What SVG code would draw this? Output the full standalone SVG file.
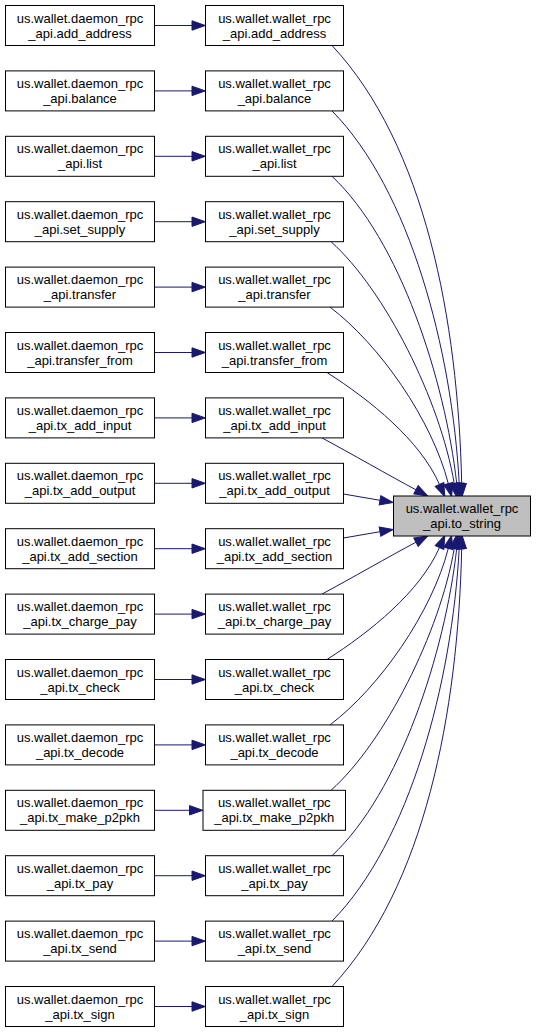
<svg xmlns="http://www.w3.org/2000/svg" width="536" height="1032" viewBox="0 0 536 1032">
<style>
.n rect{fill:#ffffff;stroke:#000000;stroke-width:1}
.n.hl rect{fill:#bfbfbf}
.n text{font-family:"Liberation Sans",Arial,sans-serif;font-size:13px;text-anchor:middle;fill:#000000}
.e path{fill:none;stroke:#191970;stroke-width:1;marker-end:url(#ah)}
</style>
<defs>
<marker id="ah" markerUnits="userSpaceOnUse" markerWidth="14" markerHeight="10" refX="0" refY="5" orient="auto" overflow="visible">
<polygon points="0,0.3 13.3,5 0,9.7" fill="#191970" stroke="#191970" stroke-width="1"/>
</marker>
</defs>
<rect width="536" height="1032" fill="#ffffff"/>
<g id="edges" class="e">
<path d="M154.5,25.5L192,25.5"/>
<path d="M154.5,90.9L192,90.9"/>
<path d="M154.5,156.3L192,156.3"/>
<path d="M154.5,221.7L192,221.7"/>
<path d="M154.5,287.1L192,287.1"/>
<path d="M154.5,352.5L192,352.5"/>
<path d="M154.5,417.9L192,417.9"/>
<path d="M154.5,483.3L192,483.3"/>
<path d="M154.5,548.7L192,548.7"/>
<path d="M154.5,614.1L192,614.1"/>
<path d="M154.5,679.5L192,679.5"/>
<path d="M154.5,744.9L192,744.9"/>
<path d="M154.5,810.3L189.5,810.3"/>
<path d="M154.5,875.7L192,875.7"/>
<path d="M154.5,941.1L192,941.1"/>
<path d="M154.5,1006.5L192,1006.5"/>
<path d="M332,45.5C425,145 458,320 461.7,483.5"/>
<path d="M332,110.9C410,190 452,350 459.2,483.3"/>
<path d="M332,176.3C400,240 445,380 456.7,483.3"/>
<path d="M331,241.7C385,290 440,400 454.2,483.3"/>
<path d="M330,307.1C380,345 432,420 448.3,483.6"/>
<path d="M327,372.5C370,400 420,440 439.5,484.5"/>
<path d="M322,437.9C350,453 390,476 416,489.8"/>
<path d="M343.5,494L380,500.3"/>
<path d="M343.5,538L380,531.7"/>
<path d="M322,594.1C350,579 390,556 416,542.2"/>
<path d="M327,659.5C370,632 420,592 439.5,547.5"/>
<path d="M330,724.9C380,687 432,612 448.3,548.4"/>
<path d="M331,790.3C385,742 440,632 454.2,548.7"/>
<path d="M332,855.7C400,792 445,652 456.7,548.7"/>
<path d="M332,921.1C410,842 452,682 459.2,548.7"/>
<path d="M332,986.5C425,887 458,712 461.7,548.5"/>
</g>
<g id="to_string" class="n hl"><rect x="393.5" y="496" width="137" height="40"/><text x="462" y="513">us.wallet.wallet_rpc</text><text x="462" y="528">_api.to_string</text></g>
<g id="w_add_address" class="n"><rect x="205.5" y="5.5" width="138" height="40"/><text x="274.5" y="22.5">us.wallet.wallet_rpc</text><text x="274.5" y="37.5">_api.add_address</text></g>
<g id="w_balance" class="n"><rect x="205.5" y="70.9" width="138" height="40"/><text x="274.5" y="87.9">us.wallet.wallet_rpc</text><text x="274.5" y="102.9">_api.balance</text></g>
<g id="w_list" class="n"><rect x="205.5" y="136.3" width="138" height="40"/><text x="274.5" y="153.3">us.wallet.wallet_rpc</text><text x="274.5" y="168.3">_api.list</text></g>
<g id="w_set_supply" class="n"><rect x="205.5" y="201.7" width="138" height="40"/><text x="274.5" y="218.7">us.wallet.wallet_rpc</text><text x="274.5" y="233.7">_api.set_supply</text></g>
<g id="w_transfer" class="n"><rect x="205.5" y="267.1" width="138" height="40"/><text x="274.5" y="284.1">us.wallet.wallet_rpc</text><text x="274.5" y="299.1">_api.transfer</text></g>
<g id="w_transfer_from" class="n"><rect x="205.5" y="332.5" width="138" height="40"/><text x="274.5" y="349.5">us.wallet.wallet_rpc</text><text x="274.5" y="364.5">_api.transfer_from</text></g>
<g id="w_tx_add_input" class="n"><rect x="205.5" y="397.9" width="138" height="40"/><text x="274.5" y="414.9">us.wallet.wallet_rpc</text><text x="274.5" y="429.9">_api.tx_add_input</text></g>
<g id="w_tx_add_output" class="n"><rect x="205.5" y="463.3" width="138" height="40"/><text x="274.5" y="480.3">us.wallet.wallet_rpc</text><text x="274.5" y="495.3">_api.tx_add_output</text></g>
<g id="w_tx_add_section" class="n"><rect x="205.5" y="528.7" width="138" height="40"/><text x="274.5" y="545.7">us.wallet.wallet_rpc</text><text x="274.5" y="560.7">_api.tx_add_section</text></g>
<g id="w_tx_charge_pay" class="n"><rect x="205.5" y="594.1" width="138" height="40"/><text x="274.5" y="611.1">us.wallet.wallet_rpc</text><text x="274.5" y="626.1">_api.tx_charge_pay</text></g>
<g id="w_tx_check" class="n"><rect x="205.5" y="659.5" width="138" height="40"/><text x="274.5" y="676.5">us.wallet.wallet_rpc</text><text x="274.5" y="691.5">_api.tx_check</text></g>
<g id="w_tx_decode" class="n"><rect x="205.5" y="724.9" width="138" height="40"/><text x="274.5" y="741.9">us.wallet.wallet_rpc</text><text x="274.5" y="756.9">_api.tx_decode</text></g>
<g id="w_tx_make_p2pkh" class="n"><rect x="203" y="790.3" width="142.5" height="40"/><text x="274.25" y="807.3">us.wallet.wallet_rpc</text><text x="274.25" y="822.3">_api.tx_make_p2pkh</text></g>
<g id="w_tx_pay" class="n"><rect x="205.5" y="855.7" width="138" height="40"/><text x="274.5" y="872.7">us.wallet.wallet_rpc</text><text x="274.5" y="887.7">_api.tx_pay</text></g>
<g id="w_tx_send" class="n"><rect x="205.5" y="921.1" width="138" height="40"/><text x="274.5" y="938.1">us.wallet.wallet_rpc</text><text x="274.5" y="953.1">_api.tx_send</text></g>
<g id="w_tx_sign" class="n"><rect x="205.5" y="986.5" width="138" height="40"/><text x="274.5" y="1003.5">us.wallet.wallet_rpc</text><text x="274.5" y="1018.5">_api.tx_sign</text></g>
<g id="d_add_address" class="n"><rect x="5.5" y="5.5" width="149" height="40"/><text x="80" y="22.5">us.wallet.daemon_rpc</text><text x="80" y="37.5">_api.add_address</text></g>
<g id="d_balance" class="n"><rect x="5.5" y="70.9" width="149" height="40"/><text x="80" y="87.9">us.wallet.daemon_rpc</text><text x="80" y="102.9">_api.balance</text></g>
<g id="d_list" class="n"><rect x="5.5" y="136.3" width="149" height="40"/><text x="80" y="153.3">us.wallet.daemon_rpc</text><text x="80" y="168.3">_api.list</text></g>
<g id="d_set_supply" class="n"><rect x="5.5" y="201.7" width="149" height="40"/><text x="80" y="218.7">us.wallet.daemon_rpc</text><text x="80" y="233.7">_api.set_supply</text></g>
<g id="d_transfer" class="n"><rect x="5.5" y="267.1" width="149" height="40"/><text x="80" y="284.1">us.wallet.daemon_rpc</text><text x="80" y="299.1">_api.transfer</text></g>
<g id="d_transfer_from" class="n"><rect x="5.5" y="332.5" width="149" height="40"/><text x="80" y="349.5">us.wallet.daemon_rpc</text><text x="80" y="364.5">_api.transfer_from</text></g>
<g id="d_tx_add_input" class="n"><rect x="5.5" y="397.9" width="149" height="40"/><text x="80" y="414.9">us.wallet.daemon_rpc</text><text x="80" y="429.9">_api.tx_add_input</text></g>
<g id="d_tx_add_output" class="n"><rect x="5.5" y="463.3" width="149" height="40"/><text x="80" y="480.3">us.wallet.daemon_rpc</text><text x="80" y="495.3">_api.tx_add_output</text></g>
<g id="d_tx_add_section" class="n"><rect x="5.5" y="528.7" width="149" height="40"/><text x="80" y="545.7">us.wallet.daemon_rpc</text><text x="80" y="560.7">_api.tx_add_section</text></g>
<g id="d_tx_charge_pay" class="n"><rect x="5.5" y="594.1" width="149" height="40"/><text x="80" y="611.1">us.wallet.daemon_rpc</text><text x="80" y="626.1">_api.tx_charge_pay</text></g>
<g id="d_tx_check" class="n"><rect x="5.5" y="659.5" width="149" height="40"/><text x="80" y="676.5">us.wallet.daemon_rpc</text><text x="80" y="691.5">_api.tx_check</text></g>
<g id="d_tx_decode" class="n"><rect x="5.5" y="724.9" width="149" height="40"/><text x="80" y="741.9">us.wallet.daemon_rpc</text><text x="80" y="756.9">_api.tx_decode</text></g>
<g id="d_tx_make_p2pkh" class="n"><rect x="5.5" y="790.3" width="149" height="40"/><text x="80" y="807.3">us.wallet.daemon_rpc</text><text x="80" y="822.3">_api.tx_make_p2pkh</text></g>
<g id="d_tx_pay" class="n"><rect x="5.5" y="855.7" width="149" height="40"/><text x="80" y="872.7">us.wallet.daemon_rpc</text><text x="80" y="887.7">_api.tx_pay</text></g>
<g id="d_tx_send" class="n"><rect x="5.5" y="921.1" width="149" height="40"/><text x="80" y="938.1">us.wallet.daemon_rpc</text><text x="80" y="953.1">_api.tx_send</text></g>
<g id="d_tx_sign" class="n"><rect x="5.5" y="986.5" width="149" height="40"/><text x="80" y="1003.5">us.wallet.daemon_rpc</text><text x="80" y="1018.5">_api.tx_sign</text></g>
</svg>
